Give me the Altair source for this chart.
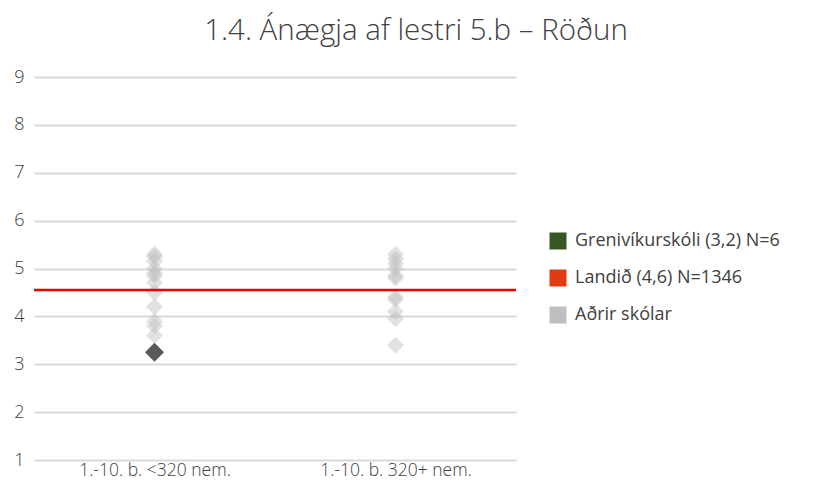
import altair as alt
import pandas as pd

categories = ["1.-10. b. <320 nem.", "1.-10. b. 320+ nem."]
others_g1 = [5.3, 5.25, 5.15, 5.0, 4.9, 4.85, 4.7, 4.5, 4.2, 3.9, 3.8, 3.6]
others_g2 = [5.3, 5.2, 5.1, 5.0, 4.85, 4.8, 4.4, 4.35, 4.1, 3.95, 3.4]
school_value = 3.25
school_group = categories[0]
national_value = 4.55
legend_labels = ["Grenivíkurskóli (3,2) N=6", "Landið (4,6) N=1346", "Aðrir skólar"]
legend_colors = ["#375623", "#e03c14", "#bfbfbf"]

others = pd.DataFrame(
    {"grp": [categories[0]] * len(others_g1) + [categories[1]] * len(others_g2),
     "val": others_g1 + others_g2,
     "serie": legend_labels[2]}
)
school = pd.DataFrame({"grp": [school_group], "val": [school_value]})

FONT = "Open Sans"
TXT = "#404040"
x_enc = alt.X("grp:N", sort=categories, title=None,
              scale=alt.Scale(domain=categories, type="point", padding=0.5),
              axis=alt.Axis(labelAngle=0, labelFontSize=17.5, labelColor=TXT,
                            domain=False, ticks=False, labelPadding=1, labelFont=FONT,
                            labelFontWeight=300))
y_scale = alt.Scale(domain=[1, 9], nice=False, zero=False)
y_axis = alt.Axis(values=list(range(1, 10)), labelFontSize=18, labelColor=TXT,
                  domain=False, ticks=False, gridColor="#d9d9d9", gridWidth=2,
                  labelPadding=10, labelFont=FONT, labelFontWeight=300)

base_others = alt.Chart(others).mark_point(
    shape="diamond", filled=True, size=289, opacity=0.45
).encode(
    x=x_enc,
    y=alt.Y("val:Q", scale=y_scale, axis=y_axis, title=None),
    color=alt.Color("serie:N", title=None,
                    scale=alt.Scale(domain=legend_labels, range=legend_colors),
                    legend=alt.Legend(orient="none", legendX=515, legendY=155,
                                      symbolType="square", symbolSize=289,
                                      symbolOpacity=1, labelFontSize=18,
                                      labelColor=TXT, labelFont=FONT,
                                      labelOffset=8, rowPadding=19, labelLimit=400,
                                      symbolStrokeWidth=0)),
)

rule = alt.Chart(pd.DataFrame({"v": [national_value]})).mark_rule(
    color="#e60000", strokeWidth=2.5
).encode(y=alt.Y("v:Q", scale=y_scale))

school_pt = alt.Chart(school).mark_point(
    shape="diamond", filled=True, size=361, opacity=1, color="#595959"
).encode(
    x=alt.X("grp:N", sort=categories, scale=alt.Scale(domain=categories, type="point", padding=0.5)),
    y=alt.Y("val:Q", scale=y_scale),
)

chart = alt.layer(base_others, rule, school_pt).properties(
    width=482, height=383,
    title=alt.TitleParams("1.4. Ánægja af lestri 5.b – Röðun", fontSize=29.5,
                          font=FONT, fontWeight=300, color=TXT,
                          offset=22, anchor="middle", dx=141),
    padding={"left": 5, "top": 7, "right": 5, "bottom": 0},
).configure_view(stroke=None)

chart.save("out.html", embed_options={"renderer": "svg", "actions": False})
